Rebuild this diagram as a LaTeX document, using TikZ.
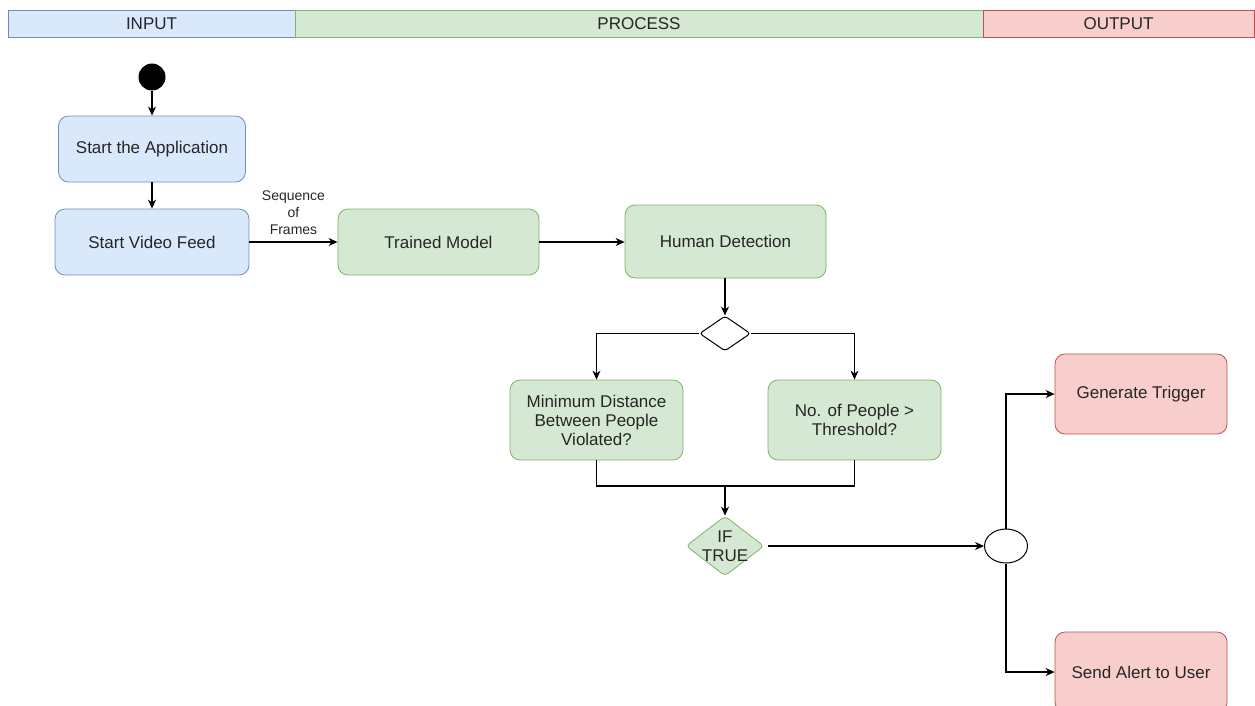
\documentclass[tikz,border=0pt]{standalone}
\usepackage{fontspec}
\setmainfont{Liberation Sans}
\usetikzlibrary{shapes.geometric,arrows.meta}
\definecolor{bfill}{HTML}{DAE8FC}\definecolor{bline}{HTML}{6C8EBF}
\definecolor{gfill}{HTML}{D5E8D4}\definecolor{gline}{HTML}{82B366}
\definecolor{rfill}{HTML}{F8CECC}\definecolor{rline}{HTML}{B85450}
\definecolor{txt}{HTML}{262626}
\begin{document}
\begin{tikzpicture}[x=1pt,y=-1pt,
  every node/.style={font=\fontsize{17}{19}\selectfont, text=txt},
  box/.style={draw, rounded corners=10pt, line width=0.8pt, align=center, inner sep=0pt},
  bbox/.style={box, fill=bfill, draw=bline},
  gbox/.style={box, fill=gfill, draw=gline},
  rbox/.style={box, fill=rfill, draw=rline},
  hdr/.style={draw, line width=0.8pt, inner sep=0pt, minimum height=27pt},
  arr/.style={-{Stealth[length=9pt,width=8pt]}, line width=1.1pt, black},
  ln/.style={line width=1.1pt, black}]
\useasboundingbox (0,0) rectangle (1255,705);
% header
\node[hdr, fill=bfill, draw=bline, minimum width=287pt] (hin) at (151.5,23.5) {INPUT};
\node[hdr, fill=gfill, draw=gline, minimum width=688pt] (hpr) at (639,23.5) {PROCESS};
\node[hdr, fill=rfill, draw=rline, minimum width=271pt] (hout) at (1118.5,23.5) {OUTPUT};
% nodes
\node[circle, fill=black, minimum size=27pt, inner sep=0pt] (start) at (152,77) {};
\node[bbox, minimum width=187pt, minimum height=66pt] (app) at (152,149) {Start the Application};
\node[bbox, minimum width=194pt, minimum height=66pt] (video) at (152,242) {Start Video Feed};
\node[gbox, minimum width=201pt, minimum height=66pt] (model) at (438.5,242) {Trained Model};
\node[gbox, minimum width=201pt, minimum height=73pt] (human) at (725.5,241.5) {Human Detection};
\node[diamond, draw, line width=1pt, fill=white, minimum width=51pt, minimum height=35pt, inner sep=0pt, rounded corners=3pt] (d1) at (725,333.5) {};
\node[gbox, minimum width=173pt, minimum height=80pt] (mind) at (596.5,420) {Minimum Distance\\Between People\\Violated?};
\node[gbox, minimum width=173pt, minimum height=80pt] (nop) at (854.5,420) {No. of People >\\Threshold?};
\coordinate (join) at (725,486);
\node[diamond, draw=gline, line width=0.8pt, fill=gfill, minimum width=78pt, minimum height=60pt, inner sep=0pt, rounded corners=4pt,
  label={[align=center, font=\fontsize{17}{19}\selectfont, text=txt]center:IF\\TRUE}] (d2) at (725,546) {};
\node[ellipse, draw, line width=1pt, fill=white, minimum width=43pt, minimum height=34pt, inner sep=0pt] (split) at (1006,546) {};
\node[rbox, minimum width=172pt, minimum height=80pt] (gen) at (1141,394) {Generate Trigger};
\node[rbox, minimum width=172pt, minimum height=80pt] (alert) at (1141,672) {Send Alert to User};
% connectors
\draw[arr] (start.south) -- (start.south |- app.north);
\draw[arr] (app.south) -- (app.south |- video.north);
\draw[arr] (video.east) -- node[above=3pt, align=center, font=\fontsize{14}{17}\selectfont]{Sequence\\of\\Frames} (model.west);
\draw[arr] (model.east) -- (model.east -| human.west);
\draw[arr] (human.south -| d1.north) -- (d1.north);
\draw[arr] (d1.west) -| (mind.north);
\draw[arr] (d1.east) -| (nop.north);
\draw[ln] (mind.south) |- (join) -| (nop.south);
\draw[arr] (join) -- (d2.north);
\draw[arr] ([xshift=4pt]d2.east) -- (split.west);
\draw[arr] (split.north) |- (gen.west);
\draw[arr] (split.south) |- (alert.west);
\end{tikzpicture}
\end{document}
